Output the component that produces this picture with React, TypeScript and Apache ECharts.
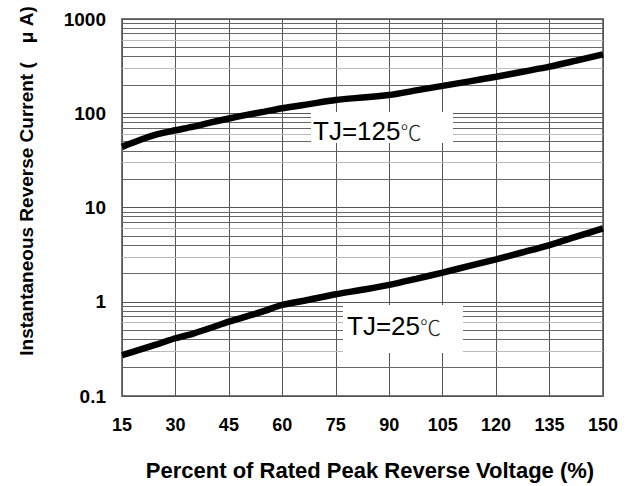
import React, { useEffect, useRef } from "react";
import * as echarts from "echarts";

const xTicks = [15, 30, 45, 60, 75, 90, 105, 120, 135, 150];
const yTicks = [0.1, 1, 10, 100, 1000];
const xs = [15, 20, 25, 30, 35, 40, 45, 50, 55, 60, 67.5, 75, 82.5, 90, 97.5, 105, 112.5, 120, 127.5, 135, 142.5, 150];
const tj125 = [44, 52, 60, 66, 72, 80, 88, 96, 104, 113, 125, 138, 147, 156, 175, 195, 218, 244, 276, 312, 362, 422];
const tj25 = [0.272, 0.31, 0.355, 0.41, 0.46, 0.53, 0.614, 0.7, 0.8, 0.925, 1.05, 1.2, 1.34, 1.51, 1.75, 2.04, 2.4, 2.82, 3.35, 4.0, 4.9, 6.0];
const decades = [0.1, 1, 10, 100];
const darkMultipliers = [2, 4, 5, 7, 8, 9];
const lightMultipliers = [3, 6];

const FONT = "'Liberation Sans', Arial, 'Noto Sans CJK SC', sans-serif";

const labelRich = {
  a: { fontFamily: "'Liberation Sans', Arial, sans-serif", fontSize: 26, fill: "#000" },
  b: { fontFamily: "'Noto Sans CJK SC', sans-serif", fontSize: 21, fontWeight: 300, fill: "#222" },
};

export default function App() {
  const ref = useRef<HTMLDivElement>(null);
  useEffect(() => {
    if (!ref.current) return;
    const chart = echarts.init(ref.current, undefined, { renderer: "svg" });
    const darkLines: any[] = [];
    const lightLines: any[] = [];
    decades.forEach((d) => {
      darkMultipliers.forEach((m) => darkLines.push({ yAxis: +(d * m).toPrecision(3) }));
      lightMultipliers.forEach((m) => lightLines.push({ yAxis: +(d * m).toPrecision(3) }));
    });
    chart.setOption({
      animation: false,
      backgroundColor: "#ffffff",
      grid: {
        left: 122,
        right: 28,
        top: 19,
        bottom: 90,
        show: true,
        borderColor: "#777777",
        borderWidth: 2,
      },
      xAxis: {
        type: "value",
        min: 15,
        max: 150,
        interval: 15,
        axisLine: { show: false },
        axisTick: { show: false },
        splitLine: { show: true, lineStyle: { color: "#555555", width: 1 } },
        axisLabel: {
          margin: 20,
          fontFamily: FONT,
          fontWeight: "bold",
          fontSize: 18,
          color: "#000",
          formatter: (v: number) => (xTicks.includes(v) ? String(v) : ""),
        },
      },
      yAxis: {
        type: "log",
        logBase: 10,
        min: 0.1,
        max: 1000,
        axisLine: { show: false },
        axisTick: { show: false },
        splitLine: { show: true, lineStyle: { color: "#555555", width: 1 } },
        axisLabel: {
          margin: 16,
          fontFamily: FONT,
          fontWeight: "bold",
          fontSize: 19,
          color: "#000",
          formatter: (v: number) => {
            const t = yTicks.find((y) => Math.abs(y - v) / y < 1e-6);
            return t !== undefined ? String(t) : "";
          },
        },
      },
      series: [
        {
          type: "line",
          data: [],
          silent: true,
          markLine: {
            silent: true,
            symbol: "none",
            label: { show: false },
            lineStyle: { color: "#666666", width: 1, type: "solid" },
            data: darkLines,
          },
        },
        {
          type: "line",
          data: [],
          silent: true,
          markLine: {
            silent: true,
            symbol: "none",
            label: { show: false },
            lineStyle: { color: "#bbbbbb", width: 1, type: "solid" },
            data: lightLines,
          },
        },
        {
          type: "line",
          name: "TJ=125",
          data: xs.map((x, i) => [x, tj125[i]]),
          smooth: 0.3,
          showSymbol: false,
          lineStyle: { color: "#000", width: 6.5 },
          z: 5,
        },
        {
          type: "line",
          name: "TJ=25",
          data: xs.map((x, i) => [x, tj25[i]]),
          smooth: 0.3,
          showSymbol: false,
          lineStyle: { color: "#000", width: 6.5 },
          z: 5,
        },
      ],
      graphic: [
        { type: "rect", shape: { x: 311, y: 112, width: 142, height: 31 }, style: { fill: "#fff" }, z: 10 },
        {
          type: "text",
          x: 313,
          y: 131,
          style: { text: "{a|TJ=125}{b|℃}", rich: labelRich, textVerticalAlign: "middle", textAlign: "left" },
          z: 11,
        },
        { type: "rect", shape: { x: 343, y: 305, width: 120, height: 48 }, style: { fill: "#fff" }, z: 10 },
        {
          type: "text",
          x: 347,
          y: 326,
          style: { text: "{a|TJ=25}{b|℃}", rich: labelRich, textVerticalAlign: "middle", textAlign: "left" },
          z: 11,
        },
        {
          type: "text",
          x: 370,
          y: 470,
          style: {
            text: "Percent of Rated Peak Reverse Voltage (%)",
            font: `bold 22px ${FONT}`,
            fill: "#000",
            textAlign: "center",
            textVerticalAlign: "middle",
          },
        },
        {
          type: "text",
          x: 26,
          y: 181,
          rotation: Math.PI / 2,
          style: {
            text: "Instantaneous Reverse Current (　μ A)",
            font: `bold 19px ${FONT}`,
            fill: "#000",
            textAlign: "center",
            textVerticalAlign: "middle",
          },
        },
      ],
    });
    return () => chart.dispose();
  }, []);
  return <div ref={ref} style={{ width: 631, height: 486, position: "absolute", left: 0, top: 0 }} />;
}
